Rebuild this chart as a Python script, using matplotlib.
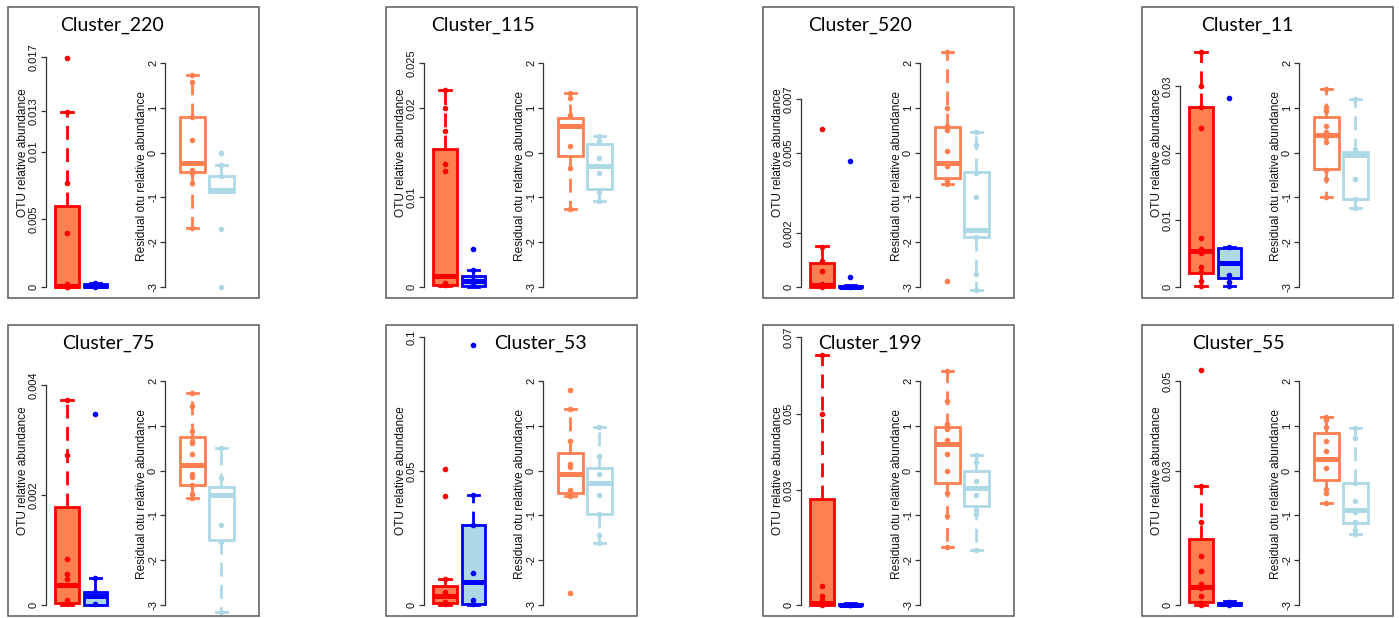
import matplotlib
matplotlib.use("Agg")
import matplotlib.pyplot as plt
from matplotlib.patches import Rectangle

plt.rcParams['axes.unicode_minus'] = False

# ---------------- data ----------------
clusters = ['Cluster_220', 'Cluster_115', 'Cluster_520', 'Cluster_11',
            'Cluster_75', 'Cluster_53', 'Cluster_199', 'Cluster_55']

# left (OTU relative abundance) axis ticks
left_ticks = [
    [0, 0.005, 0.01, 0.013, 0.017],
    [0, 0.01, 0.02, 0.025],
    [0, 0.002, 0.005, 0.007],
    [0, 0.01, 0.02, 0.03],
    [0, 0.002, 0.004],
    [0, 0.05, 0.1],
    [0, 0.03, 0.05, 0.07],
    [0, 0.03, 0.05],
]
left_labels = [[('%g' % t) for t in tk] for tk in left_ticks]
right_ticks = [-3, -2, -1, 0, 1, 2]

# box statistics: (whislo, q1, median, q3, whishi)
red_stats = [
    (0, 0, 0.0001, 0.0060, 0.0129),
    (0.00015, 0.00026, 0.00126, 0.0154, 0.0220),
    (0, 0, 0.00009, 0.00089, 0.00151),
    (0.0002, 0.0021, 0.0053, 0.0269, 0.0351),
    (0, 0.00004, 0.00036, 0.00178, 0.00373),
    (0, 0.0006, 0.0035, 0.0072, 0.0097),
    (0, 0, 0.0006, 0.0276, 0.0654),
    (0, 0.0007, 0.0041, 0.0147, 0.0266),
]
blue_stats = [
    (0, 0, 0.00005, 0.0002, 0.0003),
    (0, 0.00015, 0.0007, 0.0012, 0.00186),
    (0, 0, 0, 0.00004, 0.00008),
    (0.0002, 0.0013, 0.0036, 0.0058, 0.0060),
    (0, 0, 0.00016, 0.00024, 0.00049),
    (0, 0.00025, 0.0087, 0.0298, 0.0410),
    (0, 0, 0, 0.0002, 0.0004),
    (0, 0, 0.0002, 0.0004, 0.0008),
]
orange_stats = [
    (-1.68, -0.44, -0.23, 0.80, 1.74),
    (-1.27, -0.08, 0.60, 0.77, 1.33),
    (-0.70, -0.57, -0.23, 0.57, 2.25),
    (-0.98, -0.37, 0.40, 0.80, 1.42),
    (-0.62, -0.32, 0.13, 0.76, 1.74),
    (-0.56, -0.49, -0.08, 0.39, 1.37),
    (-1.71, -0.28, 0.59, 0.98, 2.23),
    (-0.72, -0.22, 0.26, 0.83, 1.19),
]
lblue_stats = [
    (-0.87, -0.87, -0.83, -0.52, -0.28),
    (-1.09, -0.81, -0.31, 0.20, 0.38),
    (-3.07, -1.89, -1.72, -0.44, 0.45),
    (-1.24, -1.04, -0.05, 0.02, 1.20),
    (-3.15, -1.56, -0.55, -0.36, 0.50),
    (-1.62, -0.97, -0.28, 0.05, 0.98),
    (-1.77, -0.79, -0.38, -0.01, 0.35),
    (-1.42, -1.16, -0.87, -0.27, 0.94),
]

# individual points
red_pts = [
    [0.0169, 0.0129, 0.0077, 0.0040, 0.0002, 0.0001, 0, 0],
    [0.0220, 0.0200, 0.0174, 0.0137, 0.0129, 0.0004, 0.0002],
    [0.0059, 0.0015, 0.00096, 0.00058, 0.0001, 0],
    [0.0351, 0.0300, 0.0269, 0.0237, 0.0073, 0.0057, 0.0051, 0.0030, 0.0023, 0.00085, 0.0002],
    [0.00373, 0.00273, 0.00083, 0.00057, 0.00048, 0.00036, 0.0001, 0.00004],
    [0.0507, 0.0406, 0.0097, 0.0050, 0.0040, 0.0012, 0.0003],
    [0.0654, 0.0500, 0.0050, 0.0023, 0.0013, 0],
    [0.0524, 0.0266, 0.0186, 0.0109, 0.0077, 0.0047, 0.0037, 0.0020, 0.0005, 0],
]
blue_pts = [
    [0.0003, 0.0001, 0],
    [0.00424, 0.00186, 0.0008, 0.0002],
    [0.0047, 0.00037, 0],
    [0.0282, 0.0060, 0.0018, 0.0008, 0.0002],
    [0.00348, 0.00049, 0.00024, 0.00001],
    [0.0969, 0.0410, 0.0298, 0.0118, 0.0019, 0.00025],
    [0.0001, 0],
    [0.0007, 0.0002, 0],
]
orange_pts = [
    [1.74, 1.58, 0.80, 0.28, -0.38, -0.45, -0.68, -1.68],
    [1.33, 1.22, 0.85, 0.15, -0.34, -1.27],
    [2.25, 0.99, 0.59, 0.51, 0.04, -0.23, -0.31, -0.64, -0.70, -2.87],
    [1.42, 1.02, 0.92, 0.59, 0.47, 0.35, 0.23, -0.38, -0.60, -0.98],
    [1.74, 1.45, 0.89, 0.67, 0.61, 0.37, -0.08, -0.15, -0.32, -0.52, -0.62],
    [1.80, 1.37, 0.65, 0.14, 0.09, -0.43, -0.49, -0.56, -2.74],
    [2.23, 1.56, 1.03, 0.93, 0.68, 0.37, -0.01, -0.51, -1.01, -1.71],
    [1.19, 1.13, 0.98, 0.67, 0.44, 0.05, -0.42, -0.51, -0.72],
]
lblue_pts = [
    [0.0, -0.28, -0.52, -1.71, -3.0],
    [0.38, 0.25, -0.11, -0.46, -0.89, -1.09],
    [0.45, 0.16, -0.46, -0.99, -1.89, -2.72, -3.07],
    [1.20, 0.07, -0.58, -1.04, -1.24],
    [0.50, -0.17, -1.21, -1.59, -3.15],
    [0.98, 0.33, -0.08, -0.54, -0.97, -1.44, -1.62],
    [0.35, 0.20, -0.23, -0.54, -0.88, -0.97, -1.77],
    [0.94, 0.72, -0.27, -0.67, -0.92, -1.14, -1.33, -1.42],
]

# ---------------- layout (pixels) ----------------
W, H = 1399, 618
PANEL_LEFT = [8, 386, 763, 1142]
PANEL_TOP = [7, 325]
PANEL_W, PANEL_H = 251, 291
TITLE_DX = [104, 97, 97, 105, 100, 154, 107, 96]
LEFT_TOP_PX = [50, 56, 92, 79, 60, 12, 12, 56]   # pixel row of the top left tick
ZERO_PX = 280                                    # pixel row of the zero / -3 tick
AX_TOP, AX_BOT = 2, 289

RED, CORAL, BLUE, LBLUE = '#FF0000', '#FF7F50', '#0000FF', '#ADD8E6'
TICKFONT = 'Liberation Sans'

fig = plt.figure(figsize=(W / 100, H / 100), dpi=100)


def px_rect(x, y, w, h):
    return [x / W, 1 - (y + h) / H, w / W, h / H]


def style_axis(ax, ticks, labels, lo, hi):
    for s in ['top', 'right', 'bottom']:
        ax.spines[s].set_visible(False)
    ax.spines['left'].set_bounds(lo, hi)
    ax.spines['left'].set_color('#333333')
    ax.spines['left'].set_linewidth(0.9)
    ax.set_xticks([])
    ax.set_yticks(ticks)
    ax.set_yticklabels(labels, rotation=90, va='center', ha='right',
                       family=TICKFONT, fontsize=8, color='#111111')
    ax.tick_params(axis='y', direction='out', length=3.5, width=0.9,
                   color='#333333', pad=1.5)
    ax.patch.set_visible(False)


def draw_box(ax, pos, st, pts, edge, face, pcol, width, lw):
    whislo, q1, med, q3, whishi = st
    ax.bxp([dict(whislo=whislo, q1=q1, med=med, q3=q3, whishi=whishi, fliers=[])],
           positions=[pos], widths=width, patch_artist=True, showfliers=False,
           manage_ticks=False, capwidths=0.4,
           boxprops=dict(facecolor=face, edgecolor=edge, linewidth=lw),
           medianprops=dict(color=edge, linewidth=3.6, solid_capstyle='butt'),
           whiskerprops=dict(color=edge, linewidth=lw, linestyle=(0, (5, 3))),
           capprops=dict(color=edge, linewidth=lw))
    ax.plot([pos] * len(pts), pts, 'o', ms=3.0, color=pcol, zorder=5,
            clip_on=False)


for i, name in enumerate(clusters):
    r, c = divmod(i, 4)
    pl, pt = PANEL_LEFT[c], PANEL_TOP[r]

    # panel frame
    fig.add_artist(Rectangle((pl / W, 1 - (pt + PANEL_H) / H), PANEL_W / W, PANEL_H / H,
                             transform=fig.transFigure, fill=False,
                             edgecolor='#5a5a5a', linewidth=1.1))
    # title
    fig.text((pl + TITLE_DX[i]) / W, 1 - (pt + 18) / H, name, ha='center',
             va='center', fontsize=14, family='Lato', color='black')

    # ---- left plot: OTU relative abundance ----
    axl = fig.add_axes(px_rect(pl + 38, pt + AX_TOP, 74, AX_BOT - AX_TOP))
    top_val = left_ticks[i][-1]
    s = (ZERO_PX - LEFT_TOP_PX[i]) / top_val
    axl.set_ylim(-(AX_BOT - ZERO_PX) / s, (ZERO_PX - AX_TOP) / s)
    axl.set_xlim(0.263, 2.86)
    style_axis(axl, left_ticks[i], left_labels[i], 0, top_val)
    draw_box(axl, 1, red_stats[i], red_pts[i], RED, CORAL, RED, 0.84, 2.0)
    draw_box(axl, 2, blue_stats[i], blue_pts[i], BLUE, LBLUE, BLUE, 0.84, 2.0)
    axl.set_ylabel('OTU relative abundance', fontsize=8.6, family=TICKFONT,
                   va='center', color='#111111')
    axl.yaxis.set_label_coords(-23 / 74, (AX_BOT - 146) / (AX_BOT - AX_TOP))

    # ---- right plot: residual ----
    axr = fig.add_axes(px_rect(pl + 157, pt + AX_TOP, 88, AX_BOT - AX_TOP))
    sr = (ZERO_PX - 56) / 5.0
    axr.set_ylim(-3 - (AX_BOT - ZERO_PX) / sr, -3 + (ZERO_PX - AX_TOP) / sr)
    axr.set_xlim(0.052, 3.09)
    style_axis(axr, right_ticks, [str(t) for t in right_ticks], -3, 2)
    draw_box(axr, 1, orange_stats[i], orange_pts[i], CORAL, 'white', CORAL, 0.86, 2.0)
    draw_box(axr, 2, lblue_stats[i], lblue_pts[i], LBLUE, 'white', LBLUE, 0.86, 2.0)
    axr.set_ylabel('Residual otu relative abundance', fontsize=8.6, family=TICKFONT,
                   va='center', color='#111111')
    axr.yaxis.set_label_coords(-23 / 88, (AX_BOT - 169) / (AX_BOT - AX_TOP))

fig.savefig('out.png', dpi=100, facecolor='white')
